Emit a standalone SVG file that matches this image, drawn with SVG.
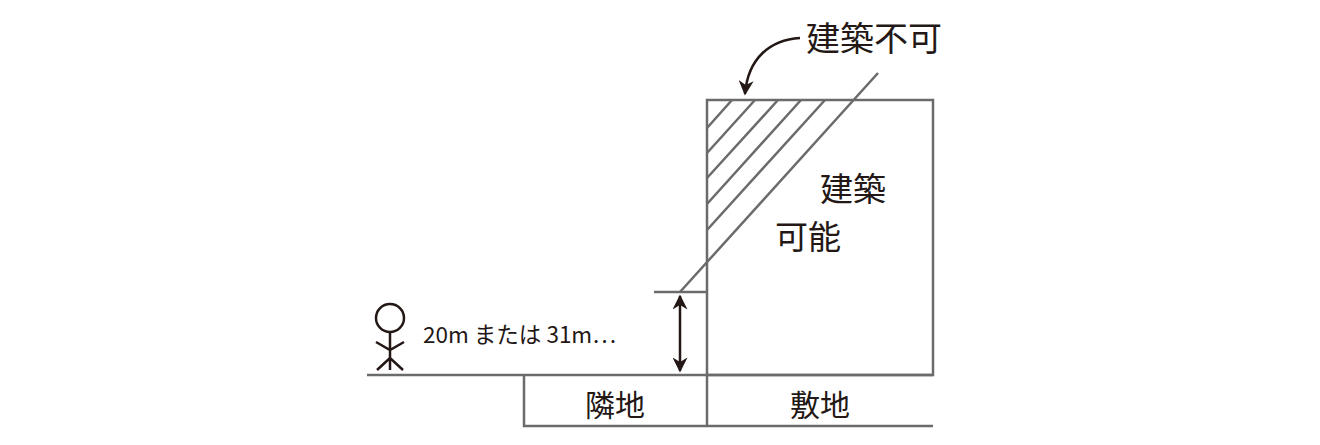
<svg xmlns="http://www.w3.org/2000/svg" width="1320" height="445" viewBox="0 0 1320 445">
<style>
.g{stroke:#6b6b6b;stroke-width:2.5;fill:none}
.k{stroke:#231815;stroke-width:2.5;fill:none}
text{font-family:"Noto Sans CJK JP","Noto Sans",sans-serif;fill:#231815}
</style>
<defs>
<marker id="ah" viewBox="0 0 10 10" refX="9" refY="5" markerWidth="7" markerHeight="6" orient="auto-start-reverse" markerUnits="strokeWidth"><path d="M0,0 L10,5 L0,10 L3,5 Z" fill="#231815"/></marker>
</defs>
<rect width="1320" height="445" fill="#fff"/>
<g id="site">
<rect x="707" y="100" width="226" height="275" class="g"/>
<text x="820" y="416" font-size="30" text-anchor="middle">敷地</text>
</g>
<g id="neighbor">
<path d="M524,375 V426 H933 M707,375 V426 M367,375 H933" class="g"/>
<text x="615" y="416" font-size="30" text-anchor="middle">隣地</text>
</g>
<g id="hatch">
<path d="M707,128 L732,100 M707,153 L755,100 M707,178 L778,100 M707,204 L801,100 M707,230 L825,100 M654,292 H707" class="g"/>
<path d="M680,292 L878,73" class="g"/>
</g>
<g id="labels">
<text x="820" y="201" font-size="33">建築</text>
<text x="775" y="249" font-size="33">可能</text>
<text x="806" y="51" font-size="34">建築不可</text>
<text x="423" y="343" font-size="22.5">20m または 31m…</text>
</g>
<g id="person" class="k">
<circle cx="390" cy="318" r="14"/>
<path d="M390,332 V370 M376,342 L390,350 L404,342 M377,370 L390,358 L403,370"/>
</g>
<g id="connectors">
<path d="M680,296 V371" class="k" marker-start="url(#ah)" marker-end="url(#ah)"/>
<path d="M800,38 C770,40 748,58 745,94" class="k" marker-end="url(#ah)"/>
</g>
</svg>
